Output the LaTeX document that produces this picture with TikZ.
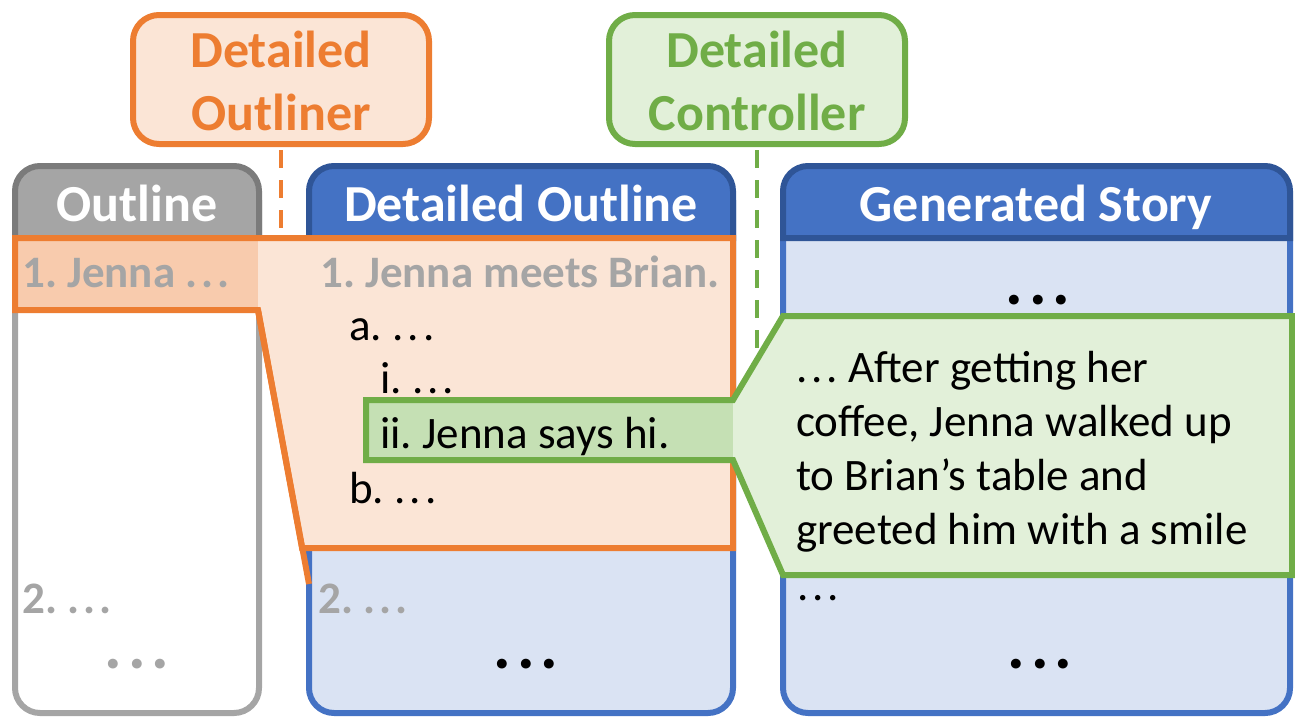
\documentclass[tikz,border=0pt]{standalone}
\usepackage{fontspec}
\setmainfont{Carlito}
\frenchspacing
\definecolor{orgline}{HTML}{ED7D31}
\definecolor{orgfill}{HTML}{FBE5D6}
\definecolor{orgdark}{HTML}{F8CBAD}
\definecolor{grnline}{HTML}{70AD47}
\definecolor{grnfill}{HTML}{E2F0D9}
\definecolor{grnmid}{HTML}{C5E0B4}
\definecolor{bluehead}{HTML}{4472C4}
\definecolor{blueedge}{HTML}{2F5597}
\definecolor{bluebody}{HTML}{DAE3F3}
\definecolor{grayhead}{HTML}{A5A5A5}
\definecolor{grayedge}{HTML}{7B7B7B}
\definecolor{graytext}{HTML}{A5A5A5}
% widely spaced ellipsis
\newcommand\wdots{.\kern0.09em.\kern0.09em.}
\begin{document}
\begin{tikzpicture}[x=1pt,y=-1pt,
  labelbox/.style={inner sep=0pt, align=center, font=\fontsize{52}{63}\selectfont\bfseries},
  headtext/.style={inner sep=0pt, anchor=base, text=white, font=\fontsize{52}{63}\selectfont\bfseries},
  bodytext/.style={inner sep=0pt, anchor=base west, font=\fontsize{45}{54}\selectfont},
  graytxt/.style={bodytext, text=graytext, font=\fontsize{45}{54}\selectfont\bfseries},
  bigdots/.style={inner sep=0pt, anchor=base, font=\fontsize{66}{66}\selectfont\bfseries},
  thick line/.style={line width=6pt, line join=miter},
  dashline/.style={line width=4pt, dash pattern=on 18pt off 12pt}
]
\useasboundingbox (0,0) rectangle (1295,720);

% column bodies (rounded bottom corners)
\newcommand\colbody[4]{%
  \filldraw[fill=#3, draw=#4, thick line]
    (#1,200) -- (#1,688) arc[start angle=180, end angle=90, radius=25]
    -- (#2-25,713) arc[start angle=90, end angle=0, radius=25] -- (#2,200);}
% column headers (rounded top corners)
\newcommand\colhead[4]{%
  \filldraw[fill=#3, draw=#4, thick line]
    (#1,238) -- (#1,191) arc[start angle=180, end angle=270, radius=25]
    -- (#2-25,166) arc[start angle=270, end angle=360, radius=25] -- (#2,238) -- cycle;}

% module boxes on top
\filldraw[fill=orgfill, draw=orgline, line width=6pt, rounded corners=26pt]
  (133,15) rectangle (429,144);
\node[labelbox, text=orgline] (outliner) at (281,81) {Detailed\\Outliner};
\filldraw[fill=grnfill, draw=grnline, line width=6pt, rounded corners=26pt]
  (609,15) rectangle (905,144);
\node[labelbox, text=grnline] (controller) at (757,81) {Detailed\\Controller};

\coordinate (outlinerfoot) at (281,237);
\coordinate (controllerfoot) at (757,400);
\draw[orgline, dashline] (281,150) -- (outlinerfoot);
\draw[grnline, dashline] (757,150) -- (controllerfoot);

% three columns
\colbody{15}{259}{white}{grayhead}
\colhead{15}{259}{grayhead}{grayedge}
\colbody{309}{733}{bluebody}{bluehead}
\colhead{309}{733}{bluehead}{blueedge}
\colbody{783}{1290}{bluebody}{bluehead}
\colhead{783}{1290}{bluehead}{blueedge}

\node[headtext] (h1) at (137,221) {Outline};
\node[headtext] (h2) at (521,221) {Detailed Outline};
\node[headtext] (h3) at (1036,221) {Generated Story};

% expansion of outline item 1 into the detailed outline
\fill[orgfill] (15,238) -- (733,238) -- (733,548) -- (302,548) -- (258,310) -- (15,310) -- cycle;
\fill[orgdark] (15,238) rectangle (258,310);
\draw[orgline, thick line] (15,238) -- (733,238) -- (733,548) -- (302,548) -- (258,310) -- (15,310) -- cycle;
\draw[orgline, line width=6pt] (258,310) -- (309,584);

% expansion of leaf ii into the generated passage
\fill[grnfill] (733,400) -- (783,316) -- (1292,316) -- (1292,575) -- (783,575) -- (733,460) -- cycle;
\fill[grnmid] (366,400) rectangle (733,460);
\draw[grnline, thick line] (366,400) -- (733,400) -- (783,316) -- (1292,316) -- (1292,575)
  -- (783,575) -- (733,460) -- (366,460) -- cycle;

% outline column text
\node[graytxt] (o1) at (22,287) {1. Jenna \wdots};
\node[graytxt] (o2) at (22,613) {2. \wdots};
\node[bigdots, text=graytext] (o3) at (137,668) {\wdots};

% detailed outline text
\node[graytxt] (d1) at (320,287) {1. Jenna meets Brian.};
\node[bodytext] (da) at (349,340) {a. \wdots};
\node[bodytext] (di) at (380,393) {i. \wdots};
\node[bodytext] (dii) at (380,448) {ii. Jenna says hi.};
\node[bodytext] (db) at (349,503) {b. \wdots};
\node[graytxt] (d2) at (318,613) {2. \wdots};
\node[bigdots] (d3) at (526,668) {\wdots};

% generated story text
\node[bigdots] (s0) at (1038,304) {\wdots};
\node[bodytext, align=left, anchor=north west] (story) at (796,351)
  {\wdots{} After getting her\\coffee, Jenna walked up\\to Brian’s table and\\greeted him with a smile};
\node[bodytext] (s1) at (797,600) {\wdots};
\node[bigdots] (s2) at (1040,668) {\wdots};
\end{tikzpicture}
\end{document}
